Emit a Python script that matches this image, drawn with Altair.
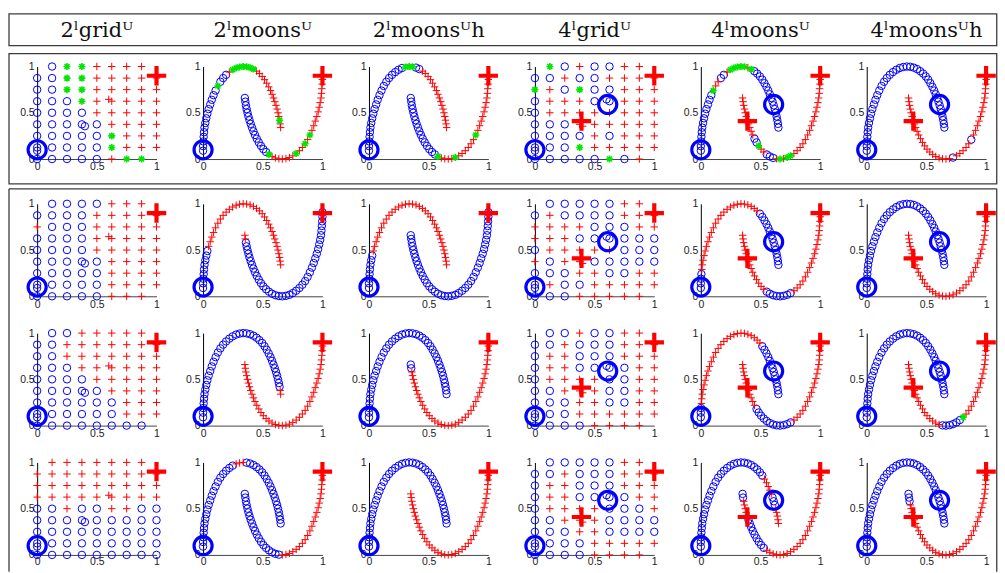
import altair as alt
import pandas as pd

# ---------------------------------------------------------------- data
HEADERS = ["2ˡgridᵁ", "2ˡmoonsᵁ", "2ˡmoonsᵁh", "4ˡgridᵁ", "4ˡmoonsᵁ", "4ˡmoonsᵁh"]
PANEL_KIND = ["grid", "moons", "moons", "grid", "moons", "moons"]
N_LABELED = [2, 2, 2, 4, 4, 4]

# grid data set: 9 x 9 lattice plus three extra points
GRID_STEPS = [0.0, 0.125, 0.25, 0.375, 0.5, 0.625, 0.75, 0.875, 1.0]
GRID_EXTRA_X = [0.0, 0.6, 0.4]
GRID_EXTRA_Y = [0.09, 0.645, 0.355]

# two-moons data set
MOON1_X = [0.000, 0.000, 0.002, 0.005, 0.008, 0.012, 0.019, 0.027, 0.036, 0.047,
           0.060, 0.073, 0.088, 0.105, 0.124, 0.145, 0.168, 0.193, 0.220, 0.248,
           0.277, 0.306, 0.336, 0.365, 0.394, 0.422, 0.448, 0.472, 0.495, 0.515,
           0.533, 0.550, 0.565, 0.578, 0.590, 0.601, 0.611, 0.620, 0.628, 0.635,
           0.641, 0.646, 0.650]
MOON1_Y = [0.09, 0.14, 0.19, 0.24, 0.29, 0.34, 0.39, 0.44, 0.49, 0.54,
           0.59, 0.64, 0.69, 0.74, 0.79, 0.835, 0.875, 0.91, 0.94, 0.965,
           0.984, 0.995, 1.0, 0.997, 0.988, 0.972, 0.95, 0.924, 0.893, 0.858,
           0.82, 0.78, 0.74, 0.70, 0.66, 0.62, 0.58, 0.54, 0.50, 0.46,
           0.42, 0.38, 0.34]
MOON2_X = [0.350, 0.354, 0.359, 0.365, 0.372, 0.380, 0.389, 0.399, 0.410, 0.422,
           0.435, 0.450, 0.467, 0.485, 0.505, 0.528, 0.552, 0.578, 0.606, 0.635,
           0.664, 0.694, 0.723, 0.752, 0.780, 0.807, 0.832, 0.855, 0.876, 0.895,
           0.912, 0.927, 0.940, 0.953, 0.964, 0.973, 0.981, 0.988, 0.992, 0.995,
           0.998, 1.000, 1.000]
MOON2_Y = [0.66, 0.62, 0.58, 0.54, 0.50, 0.46, 0.42, 0.38, 0.34, 0.30,
           0.26, 0.22, 0.18, 0.142, 0.107, 0.076, 0.05, 0.028, 0.012, 0.003,
           0.0, 0.005, 0.016, 0.035, 0.06, 0.09, 0.125, 0.165, 0.21, 0.26,
           0.31, 0.36, 0.41, 0.46, 0.51, 0.56, 0.61, 0.66, 0.71, 0.76,
           0.81, 0.86, 0.91]

# labeled points (b = class 1, r = class 2)
LAB2_X, LAB2_Y, LAB2_C = [0.0, 1.0], [0.1, 0.9], ["b", "r"]
LAB4_X, LAB4_Y, LAB4_C = [0.0, 0.61, 0.39, 1.0], [0.1, 0.59, 0.41, 0.9], ["b", "b", "r", "r"]

# predicted class per point: b = blue circle, r = red cross, g = green star, . = absent
# grid panels: rows listed from y = 1 down to y = 0, then the three extra points
GRID_LABELS = {
    (0, 0): [".bggrrrr.", "bbggrrrrr", "bbggrrrrr", "bbbgrrrrr", "bbbbrrrrr",
             "bbbbbrrrr", "bbbbbgrrr", "bbbbbgrrr", "bbbbbrgg.", "brb"],
    (1, 0): [".bbbbrrr.", "bbbbrrrrr", "rbbbrrrrr", "bbbbrrrrr", "bbbbrrrrr",
             "bbbbbrrrr", "bbbbbrrrr", "bbbbbrrrr", "bbbbbrrr.", "brb"],
    (2, 0): [".bbrrrrr.", "bbrrrrrrr", "bbrrrrrrr", "bbbrrrrrr", "bbbbrrrrr",
             "bbbbbrrrr", "bbbbbbrrr", "bbbbbbrrr", "bbbbbbbb.", "brb"],
    (3, 0): [".rrrrrrr.", "rrrrrrrrr", "rrrrrrrrr", "rrrrrrrrr", "bbrbbrrbb",
             "bbbbbbbbb", "bbbbbbbbb", "bbbbbbbbb", "bbbbbbbbb", "brb"],
    (0, 3): [".gbrbbrr.", "bbrbbrrrr", "grbgbbrrr", "brrrbbrrr", "brrrrrrrr",
             "bbbrrrrrr", "bbbbrbrrr", "bbbgrrrrr", "bbbbbgbr.", "bbr"],
    (1, 3): [".bbbbbrr.", "brbbbbrrr", "rrrrbbbrr", "rrrbbbbbb", "brrrrrbbb",
             "rbrrbbbbb", "bbbrrbbrr", "brbbrrrrr", "bbbrrrrr.", "bbr"],
    (2, 3): [".bbrbbrr.", "bbrbbbrrr", "brrbbbrrr", "brrbbbbrr", "brrrrbbrr",
             "bbrrrbbrr", "bbbrrbbrr", "bbbrrrrrr", "bbbbrrrr.", "bbr"],
    (3, 3): [".bbbbbrr.", "bbrbbbrrr", "brrbbbrrr", "brrbbbbrr", "brrrrbbbr",
             "bbrrrbbbb", "bbbrrbbbb", "bbbbrrrrr", "bbbbrrrr.", "bbr"],
}

ALL_B = "bbbbbbbbbb bbbbbbbbbb bbbbbbbbbb bbbbbbbbbb bbb"
ALL_R = "rrrrrrrrrr rrrrrrrrrr rrrrrrrrrr rrrrrrrrrr rrr"
# moons panels: (first moon, second moon), in the point order of MOON*_X
MOON_LABELS = {
    (0, 1): ("bbbbbbbbbb bbbb g bbb r ggggggg rrrrrrrrrr rrrr g rr",
             "bbbbbbbbbb bbbbbb g rrrrrrr g rr g r g rrrrrrrrrr rrr"),
    (0, 2): ("bbbbbbbbbb bbbbbbbbbb b ggg bb rrrrrrrrrr rrrrrrr",
             "bbbbbbbbbb bbbbbbb g rrrr g rrrrrr g rrrrrrrrrr rrr"),
    (0, 4): ("bbbbbbbbbb bbb g rr bb r ggggg r g bbbbbbbbbb bbbbbbb",
             "rrrrrrrrrr r bb g rr bbb r g r gg rrrrrrrrrr rrrrrrrrr"),
    (0, 5): (ALL_B, "rrrrrrrrrr rrrrrrrrrr rr b rrrrr b rrrrrrrrrr rrrr"),
    (1, 1): ("bbbbbbbbb rrrrrrrrrr rrrrrrrrrr rrrrrrrrrr rrrr",
             "rr bbbbbbbbbb bbbbbbbbbb bbbbbbbbbb bbbbbbbbbb b"),
    (1, 2): ("bbbbbbbb rrrrrrrrrr rrrrrrrrrr rrrrrrrrrr rrrrr", ALL_B),
    (1, 4): ("bbbb rrrrrrrrrr rrrrrrrrrr rrrr bbbbbbbbbb bbbbb",
             "rrrrrrrrrr rrrrrr bbbbbbbb rrrrrrrrrr rrrrrrrrr"),
    (1, 5): (ALL_B, ALL_R),
    (2, 1): ("bbbbbbbbbb bbbbbbbbbb bbbbbbbbbb bbbbbbbbbb b rr", ALL_R),
    (2, 2): (ALL_B, "bb rrrrrrrrrr rrrrrrrrrr rrrrrrrrrr rrrrrrrrrr r"),
    (2, 4): ("bbb rrrrrrrrrr rrrrrrrrrr rrrrrr bbbbbbbbbb bbbb",
             "rrrrrrrrrr rr bbbbbbbbbb bb rrrrrrrrrr rrrrrrrrr"),
    (2, 5): (ALL_B, "rrrrrrrrrr rrrrrrrrr bbbbbb g rrrrrrrrrr rrrrrrr"),
    (3, 1): ("bbbbbbbbbb bbbbbbbbbb rrr bbbbbbbbbb bbbbbbbbbb",
             "bbbbbbbbbb bbbbbbbbbb rrrrrrrrrr rrrrrrrrrr rrr"),
    (3, 2): (ALL_B, ALL_R),
    (3, 4): ("bbbbbbbbbb bbbbbbbbbb bbbbbbbbbb rrrrr bbb rrrrr",
             "bb rrrr g bbbbbbbbb rrrrrrrrrr rrrrrrrrrr rrrrrrr"),
    (3, 5): (ALL_B, "bbb rrrrrrrrrr rrrrrrrrrr rrrrrrrrrr rrrrrrrrrr"),
}

# ---------------------------------------------------------------- style
BLUE, RED, GREEN = "#0000FF", "#FF0000", "#00E600"
BOX_COLOR, BOX_W = "#3c3c3c", 1.3
CROSS = "M-1,0H1M0,-1V1"
STAR = "M-1,0H1M0,-1V1M-0.72,-0.72L0.72,0.72M-0.72,0.72L0.72,-0.72"

PW, PH = 120, 93            # plot area of one panel
EXTRA_TOP = 8               # additional room below the first row
COL_GAP, ROW_GAP = 46.8, 37
OX, OY1 = 37.3, 65.0        # page position of the first panel's plot area
OY2 = OY1 + PH + EXTRA_TOP + ROW_GAP
BOX_LEFT, BOX_RIGHT, BOX_BOTTOM = 9, 1002, 573


def panel_points(row, col):
    xs, ys, cs = [], [], []
    if PANEL_KIND[col] == "grid":
        lines = GRID_LABELS[(row, col)]
        for i, line in enumerate(lines[:9]):
            for j, ch in enumerate(line):
                if ch != ".":
                    xs.append(GRID_STEPS[j])
                    ys.append(GRID_STEPS[8 - i])
                    cs.append(ch)
        for k, ch in enumerate(lines[9]):
            xs.append(GRID_EXTRA_X[k])
            ys.append(GRID_EXTRA_Y[k])
            cs.append(ch)
    else:
        m1, m2 = (s.replace(" ", "") for s in MOON_LABELS[(row, col)])
        assert len(m1) == len(MOON1_X) and len(m2) == len(MOON2_X), (row, col)
        for px, py, ch in zip(MOON1_X + MOON2_X, MOON1_Y + MOON2_Y, m1 + m2):
            if ch != ".":
                xs.append(px)
                ys.append(py)
                cs.append(ch)
    return pd.DataFrame({"x": xs, "y": ys, "c": cs})


def one_row():
    return pd.DataFrame({"k": [0]})


def frame(x1, x2, y1, y2):
    """Outlined rectangle in pixel coordinates of the host panel."""
    return alt.Chart(one_row()).mark_rect(
        fill=None, fillOpacity=0, stroke=BOX_COLOR, strokeWidth=BOX_W).encode(
        x=alt.value(x1), x2=alt.value(x2), y=alt.value(y1), y2=alt.value(y2))


def hline(x1, x2, y):
    return alt.Chart(one_row()).mark_rule(color=BOX_COLOR, strokeWidth=BOX_W).encode(
        x=alt.value(x1), x2=alt.value(x2), y=alt.value(y))


def vline(x, y1, y2):
    return alt.Chart(one_row()).mark_rule(color=BOX_COLOR, strokeWidth=BOX_W).encode(
        x=alt.value(x), y=alt.value(y1), y2=alt.value(y2))


def encodings(row):
    x_enc = alt.X("x:Q", scale=alt.Scale(domain=[0, 1], nice=False, zero=False),
                  axis=alt.Axis(values=[0, 0.5, 1], format="~g", title=None, grid=False,
                                ticks=False, tickSize=0,
                                labelPadding=1.5 if row == 3 else 3, labelFlush=False,
                                domainColor="#444444", domainWidth=1,
                                offset=-EXTRA_TOP if row == 0 else 0))
    y_scale = alt.Scale(domain=[0, 1], nice=False, zero=False,
                        range=[PH, 0]) if row == 0 else \
        alt.Scale(domain=[0, 1], nice=False, zero=False)
    y_enc = alt.Y("y:Q", scale=y_scale,
                  axis=alt.Axis(values=[0, 0.5, 1], format="~g", title=None, grid=False,
                                ticks=False, tickSize=0, labelPadding=3, labelFlush=False,
                                domainColor="#000000", domainWidth=1))
    return x_enc, y_enc


def panel(row, col):
    x_enc, y_enc = encodings(row)
    df = panel_points(row, col)
    base = alt.Chart(df).encode(x=x_enc, y=y_enc)
    circles = base.transform_filter(alt.datum.c == "b").mark_point(
        shape="circle", filled=False, size=56, color=BLUE, strokeWidth=1, opacity=1)
    crosses = base.transform_filter(alt.datum.c == "r").mark_point(
        shape=CROSS, filled=False, size=56, color=RED, strokeWidth=1, opacity=1)
    stars = base.transform_filter(alt.datum.c == "g").mark_point(
        shape=STAR, filled=False, size=49, color=GREEN, strokeWidth=1.6, opacity=1)

    if N_LABELED[col] == 2:
        lab = pd.DataFrame({"x": LAB2_X, "y": LAB2_Y, "c": LAB2_C})
    else:
        lab = pd.DataFrame({"x": LAB4_X, "y": LAB4_Y, "c": LAB4_C})
    lbase = alt.Chart(lab).encode(x=x_enc, y=y_enc)
    big_c = lbase.transform_filter(alt.datum.c == "b").mark_point(
        shape="circle", filled=False, size=330, color=BLUE, strokeWidth=3.2, opacity=1)
    big_x = lbase.transform_filter(alt.datum.c == "r").mark_point(
        shape=CROSS, filled=False, size=380, color=RED, strokeWidth=4.2, opacity=1)

    layers = [circles, crosses, stars, big_c, big_x]

    if row == 0:
        # column header above the first row
        layers.append(alt.Chart(one_row()).mark_text(
            text=HEADERS[col], font="DejaVu Serif", fontSize=21, color="#111111",
            align="center", baseline="middle").encode(
            x=alt.value(PW / 2), y=alt.value(29 - OY1)))
    if row == 0 and col == 0:
        left, right = BOX_LEFT - OX, BOX_RIGHT - OX
        layers += [frame(left, right, 12 - OY1, 44 - OY1),
                   frame(left, right, 52 - OY1, 183 - OY1)]
    if row == 1 and col == 0:
        left, right = BOX_LEFT - OX, BOX_RIGHT - OX
        layers += [hline(left, right, 188 - OY2),
                   vline(left, 188 - OY2, BOX_BOTTOM - OY2),
                   vline(right, 188 - OY2, BOX_BOTTOM - OY2)]

    height = PH + EXTRA_TOP if row == 0 else PH
    return alt.layer(*layers).properties(width=PW, height=height)


panels = [panel(r, c) for r in range(4) for c in range(6)]

chart = alt.concat(*panels, columns=6, spacing={"row": ROW_GAP, "column": COL_GAP},
                   bounds="flush").properties(
    padding={"left": BOX_LEFT - BOX_W / 2, "top": 12 - BOX_W / 2, "right": 0, "bottom": 0},
    background="white",
).configure_view(stroke=None).configure_axis(
    labelFont="Liberation Sans", labelFontSize=10.5, labelColor="#222222")

chart.save("out.html", embed_options={"renderer": "svg", "actions": False})
